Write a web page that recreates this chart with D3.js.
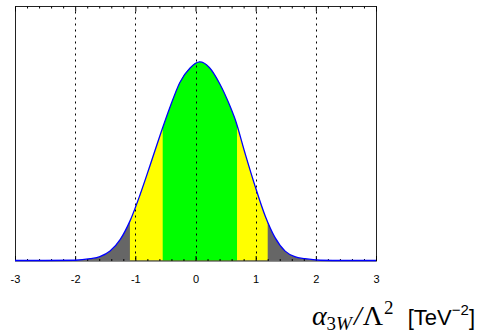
<!DOCTYPE html>
<html>
<head>
<meta charset="utf-8">
<script src="https://cdn.jsdelivr.net/npm/d3@7"></script>
<style>
  body { margin: 0; background: #fff; }
  svg { display: block; }
</style>
</head>
<body>
<div id="chart"></div>
<script>
// values (x in TeV^-2, y in arbitrary units, 0..1 of plot height)
var curveX = [-3.0, -2.5, -2.0, -1.75, -1.59, -1.42, -1.25, -1.09, -0.92, -0.76, -0.59, -0.42, -0.26, -0.09,
              0.07, 0.23, 0.40, 0.57, 0.66, 0.82, 0.99, 1.16, 1.32, 1.49, 1.65, 1.82, 2.07, 2.5, 3.0];
var curveY = [0, 0, 0.001, 0.007, 0.015, 0.037, 0.083, 0.155, 0.260, 0.371, 0.492, 0.606, 0.701, 0.758,
              0.782, 0.760, 0.697, 0.610, 0.555, 0.425, 0.293, 0.174, 0.091, 0.037, 0.015, 0.007, 0.001, 0, 0];
var band68 = [-0.545, 0.69];
var band95 = [-1.09, 1.20];
var majorTicks = [-3, -2, -1, 0, 1, 2, 3];
var tickLabels = ["-3", "-2", "-1", "0", "1", "2", "3"];
var gridLines = [-2, -1, 0, 1, 2];

var width   = 477,
    height  = 336,
    plotL   = 15,
    plotR   = 376,
    plotT   = 6.5,
    plotB   = 261;

var points = curveX.map(function(d, i) { return [d, curveY[i]]; });
var minorTicks = d3.range(-30, 31, 2).map(function(d) { return d / 10; })
                   .filter(function(d) { return majorTicks.indexOf(d) < 0; });

var x = d3.scaleLinear().domain([-3, 3]).range([plotL, plotR]);
var y = d3.scaleLinear().domain([0, 1]).range([plotB - 0.5, plotT]);

var svg = d3.select("#chart").append("svg")
    .attr("width", width)
    .attr("height", height);

var defs = svg.append("defs");

function bandClip(id, range) {
    defs.append("clipPath").attr("id", id)
      .append("rect")
        .attr("x", x(range[0]))
        .attr("y", plotT)
        .attr("width", x(range[1]) - x(range[0]))
        .attr("height", plotB - plotT);
}
bandClip("clip95", band95);
bandClip("clip68", band68);

var area = d3.area()
    .x(function(d) { return x(d[0]); })
    .y0(y(0))
    .y1(function(d) { return y(d[1]); })
    .curve(d3.curveMonotoneX);

var line = d3.line()
    .x(function(d) { return x(d[0]); })
    .y(function(d) { return y(d[1]); })
    .curve(d3.curveMonotoneX);

// tails (gray), 95% (yellow), 68% (green)
svg.append("path").datum(points).attr("d", area).style("fill", "#666666");
svg.append("path").datum(points).attr("d", area).attr("clip-path", "url(#clip95)").style("fill", "#ffff00");
svg.append("path").datum(points).attr("d", area).attr("clip-path", "url(#clip68)").style("fill", "#00ff00");

// dotted grid
svg.selectAll(".grid").data(gridLines).enter().append("line")
    .attr("class", "grid")
    .attr("x1", function(d) { return Math.round(x(d)) + 0.5; })
    .attr("x2", function(d) { return Math.round(x(d)) + 0.5; })
    .attr("y1", plotT + 5)
    .attr("y2", plotB)
    .style("stroke", "#000")
    .style("stroke-width", 1)
    .style("stroke-dasharray", "2,4");

// frame
svg.append("rect")
    .attr("x", plotL + 0.5)
    .attr("y", plotT)
    .attr("width", plotR - plotL)
    .attr("height", plotB - plotT)
    .style("fill", "none")
    .style("stroke", "#222")
    .style("stroke-width", 1);

// ticks, pointing inwards
function ticks(axis, ty, values, size, labels) {
    var g = svg.append("g")
        .attr("transform", "translate(0," + ty + ")")
        .call(axis(x).tickValues(values).tickSize(-size).tickSizeOuter(0).tickPadding(14)
              .tickFormat(labels ? function(d, i) { return tickLabels[i]; } : ""));
    g.select(".domain").remove();
    g.selectAll("line").style("stroke", "#000");
    g.selectAll("text")
        .style("font-family", "'Liberation Sans', Arial, sans-serif")
        .style("font-size", "11px")
        .style("fill", "#000");
    return g;
}
ticks(d3.axisBottom, plotB, minorTicks, 2, false);
ticks(d3.axisBottom, plotB, majorTicks, 5, true);
ticks(d3.axisTop, plotT, minorTicks, 2, false);
ticks(d3.axisTop, plotT, majorTicks, 5, false);

// likelihood curve
svg.append("path").datum(points)
    .attr("d", line)
    .style("fill", "none")
    .style("stroke", "#0000ff")
    .style("stroke-width", 1.3);

// axis title
var serif = "'Liberation Serif', 'Times New Roman', serif",
    sans  = "'Liberation Sans', Arial, sans-serif";
var title = svg.append("text")
    .attr("x", 475)
    .attr("y", 325)
    .attr("text-anchor", "end")
    .style("fill", "#000");
title.append("tspan").text("α").style("font-family", serif).style("font-style", "italic").style("font-size", "28px");
title.append("tspan").text("3").attr("dy", 5).style("font-family", serif).style("font-size", "19px");
title.append("tspan").text("W").style("font-family", serif).style("font-style", "italic").style("font-size", "19px");
title.append("tspan").text("/").attr("dy", -5).attr("dx", 2).style("font-family", serif).style("font-style", "italic").style("font-size", "28px");
title.append("tspan").text("Λ").attr("dx", 1).style("font-family", serif).style("font-size", "28px");
title.append("tspan").text("2").attr("dy", -11).attr("dx", 1).style("font-family", serif).style("font-size", "19px");
title.append("tspan").text("\u00a0\u00a0[TeV").attr("dy", 11).attr("dx", 2).style("font-family", sans).style("font-size", "22px");
title.append("tspan").text("−2").attr("dy", -10).style("font-family", sans).style("font-size", "15px");
title.append("tspan").text("]").attr("dy", 10).style("font-family", sans).style("font-size", "22px");
</script>
</body>
</html>
